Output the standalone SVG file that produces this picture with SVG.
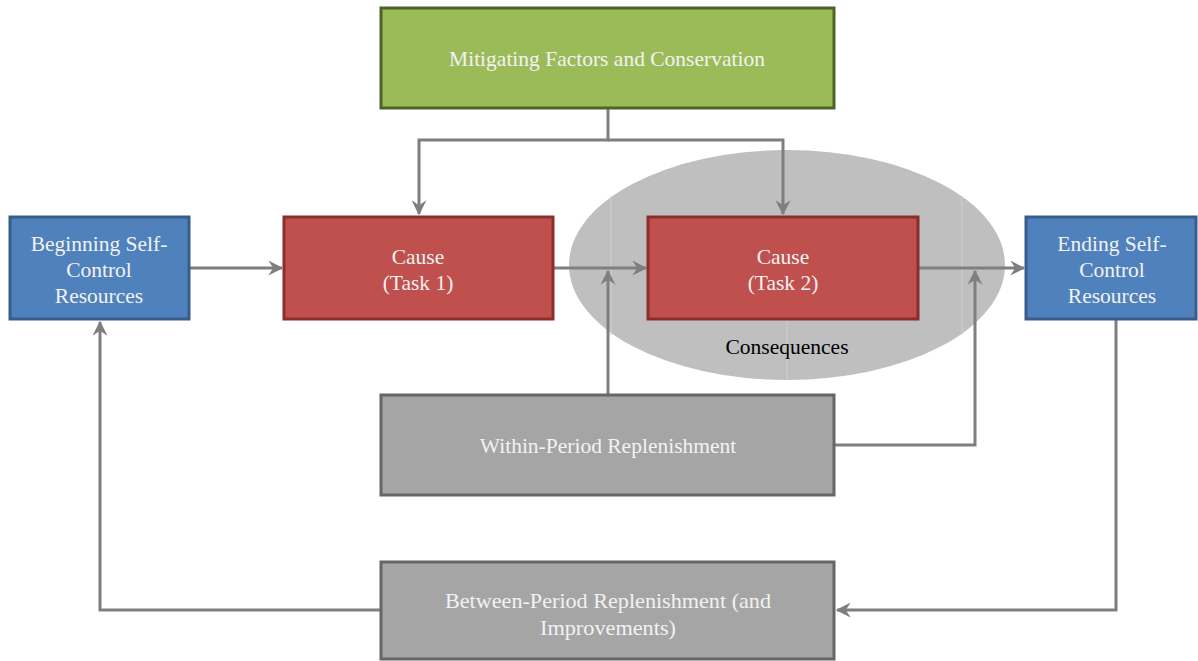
<svg xmlns="http://www.w3.org/2000/svg" width="1198" height="661" viewBox="0 0 1198 661">
<defs>
<style>
.t{font-family:"Liberation Serif","Times New Roman",serif;font-size:21.5px;fill:#f2f2f2;text-anchor:middle}
.k{font-family:"Liberation Serif","Times New Roman",serif;font-size:21.5px;fill:#000;text-anchor:middle}
.c{fill:none;stroke:#7f7f7f;stroke-width:3}
.red{fill:#c0504d;stroke:#8c2d2b;stroke-width:3}
.blue{fill:#4f81bd;stroke:#385d8a;stroke-width:3}
.gray{fill:#a5a5a5;stroke:#666666;stroke-width:3}
.green{fill:#9bbb59;stroke:#4f6228;stroke-width:3}
</style>
<marker id="a" viewBox="0 0 12 12" refX="11" refY="6" markerWidth="15" markerHeight="15" orient="auto" markerUnits="userSpaceOnUse">
<path d="M0,0 L12,6 L0,12 L4,6 z" fill="#7f7f7f"/>
</marker>
</defs>
<g id="consequences">
<ellipse cx="787" cy="265" rx="218" ry="115" fill="#bfbfbf"/>
<g stroke="#d0d0d0" stroke-width="1">
<line x1="611" y1="196" x2="611" y2="335"/>
<line x1="962" y1="196" x2="962" y2="335"/>
<line x1="787" y1="320" x2="787" y2="380"/>
</g>
<text class="k" x="787" y="354">Consequences</text>
</g>
<g id="connectors">
<path class="c" d="M608,108 V140 H419 V214" marker-end="url(#a)"/>
<path class="c" d="M608,140 H783 V214" marker-end="url(#a)"/>
<path class="c" d="M189,268 H282" marker-end="url(#a)"/>
<path class="c" d="M553,268 H646" marker-end="url(#a)"/>
<path class="c" d="M918,268 H1024" marker-end="url(#a)"/>
<path class="c" d="M608,395 V271" marker-end="url(#a)"/>
<path class="c" d="M834,445 H975 V271" marker-end="url(#a)"/>
<path class="c" d="M380,610 H100 V322" marker-end="url(#a)"/>
<path class="c" d="M1116,319 V610 H837" marker-end="url(#a)"/>
</g>
<g id="mitigating">
<rect class="green" x="381" y="8" width="453" height="100"/>
<text class="t" x="607" y="66">Mitigating Factors and Conservation</text>
</g>
<g id="begin">
<rect class="blue" x="10" y="217" width="179" height="102"/>
<text class="t" x="99" y="251">Beginning Self-</text>
<text class="t" x="99" y="277">Control</text>
<text class="t" x="99" y="303">Resources</text>
</g>
<g id="task1">
<rect class="red" x="284" y="217" width="269" height="102"/>
<text class="t" x="418" y="264">Cause</text>
<text class="t" x="418" y="290">(Task 1)</text>
</g>
<g id="task2">
<rect class="red" x="648" y="217" width="270" height="102"/>
<text class="t" x="783" y="264">Cause</text>
<text class="t" x="783" y="290">(Task 2)</text>
</g>
<g id="end">
<rect class="blue" x="1026" y="217" width="170" height="102"/>
<text class="t" x="1112" y="251">Ending Self-</text>
<text class="t" x="1112" y="277">Control</text>
<text class="t" x="1112" y="303">Resources</text>
</g>
<g id="within">
<rect class="gray" x="381" y="395" width="453" height="100"/>
<text class="t" x="608" y="453">Within-Period Replenishment</text>
</g>
<g id="between">
<rect class="gray" x="381" y="562" width="453" height="97"/>
<text class="t" x="608" y="608" textLength="326" lengthAdjust="spacingAndGlyphs">Between-Period Replenishment (and</text>
<text class="t" x="608" y="635" textLength="136" lengthAdjust="spacingAndGlyphs">Improvements)</text>
</g>
</svg>
